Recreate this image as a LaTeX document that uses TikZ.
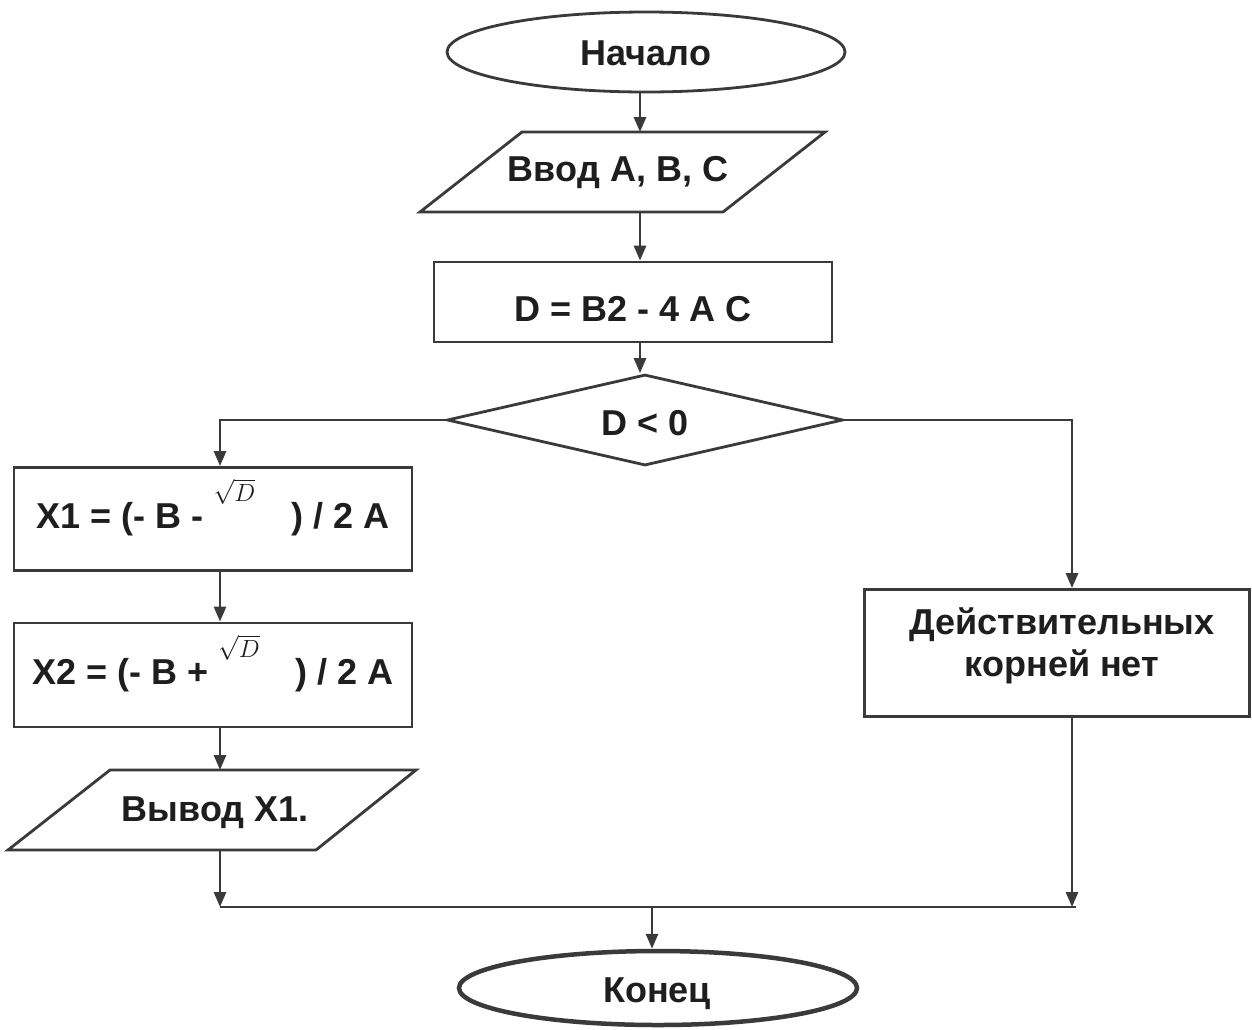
\documentclass[tikz,border=0pt]{standalone}
\usepackage{fontspec}
\setmainfont{Liberation Sans}
\usetikzlibrary{shapes.geometric,arrows.meta}
\definecolor{lncol}{HTML}{3A3A3A}
\definecolor{txcol}{HTML}{1E1E1E}
\newcommand{\sqD}{\smash{\raisebox{27pt}{\fontsize{28}{28}\selectfont\mdseries$\sqrt{D}$}}}
\begin{document}
\begin{tikzpicture}[x=1pt,y=-1pt,
  shp/.style={draw=lncol, line width=2.8pt, inner sep=0pt, text=txcol,
    font=\bfseries\fontsize{36}{42}\selectfont},
  txt/.style={inner sep=0pt, text=txcol, font=\bfseries\fontsize{36}{42}\selectfont},
  conn/.style={draw=lncol, line width=2.8pt},
  arr/.style={conn, -{Triangle[length=15pt,width=12pt]}}]

\useasboundingbox (0,0) rectangle (1252,1029);
\fill[white] (0,0) rectangle (1252,1029);

% columns
\coordinate (col) at (640,0);
\coordinate (lc) at (220,0);
\coordinate (rc) at (1072,0);

% start
\node[shp, ellipse, minimum width=398pt, minimum height=80pt] (start) at (646,52) {};
\node[txt] (startl) at (646,53) {Начало};

% input
\coordinate (i1) at (522,132);
\coordinate (i2) at (825,132);
\coordinate (i3) at (723,212);
\coordinate (i4) at (420,212);
\draw[conn, line join=miter] (i1) -- (i2) -- (i3) -- (i4) -- cycle;
\node[txt] (inp) at (618,173) {Ввод A, B, C};

% D
\node[shp, rectangle, minimum width=398pt, minimum height=80pt] (dbox) at (633,302) {};
\node[txt] (dboxl) at (633,309) {D = B2 - 4 A C};

% condition
\node[shp, diamond, aspect=4.35, minimum width=396pt, minimum height=91pt] (cond) at (645,420) {};
\node[txt] (condl) at (645,423) {D < 0};

% X1, X2
\node[shp, rectangle, minimum width=398pt, minimum height=103pt] (x1) at (213,519)
  {X1 = (- B - \sqD\hspace{36pt}) / 2 A};
\node[shp, rectangle, minimum width=398pt, minimum height=104pt] (x2) at (213,675)
  {X2 = (- B + \sqD\hspace{36pt}) / 2 A};

% output
\coordinate (o1) at (110,770);
\coordinate (o2) at (416,770);
\coordinate (o3) at (316,850);
\coordinate (o4) at (8,850);
\draw[conn, line join=miter] (o1) -- (o2) -- (o3) -- (o4) -- cycle;
\node[txt] (outp) at (215,813) {Вывод X1.};

% no roots
\node[shp, rectangle, minimum width=385pt, minimum height=127pt] (nr) at (1057,653) {};
\node[txt, align=center] (nrl) at (1062,646) {Действительных\\корней нет};

% end
\node[shp, ellipse, line width=4.5pt, minimum width=398pt, minimum height=74pt] (fin) at (658,988) {};
\node[txt] (finl) at (657,994) {Конец};

% join
\coordinate (jl) at (220,907);
\coordinate (jr) at (1072,907);
\coordinate (jre) at (1076,907);
\coordinate (jm) at (652,907);

% connectors
\draw[arr] (start.south -| col) -- (i1 -| col);
\draw[arr] (i4 -| col) -- (dbox.north -| col);
\draw[arr] (dbox.south -| col) -- (cond.north -| col);
\draw[arr] (cond.west) -| (x1.north -| lc);
\draw[arr] (cond.east) -| (nr.north -| rc);
\draw[arr] (x1.south -| lc) -- (x2.north -| lc);
\draw[arr] (x2.south -| lc) -- (o1 -| lc);
\draw[arr] (o4 -| lc) -- (jl);
\draw[arr] (nr.south -| rc) -- (jr);
\draw[conn] (jl) -- (jre);
\draw[arr] (jm) -- (fin.north -| jm);
\end{tikzpicture}
\end{document}
